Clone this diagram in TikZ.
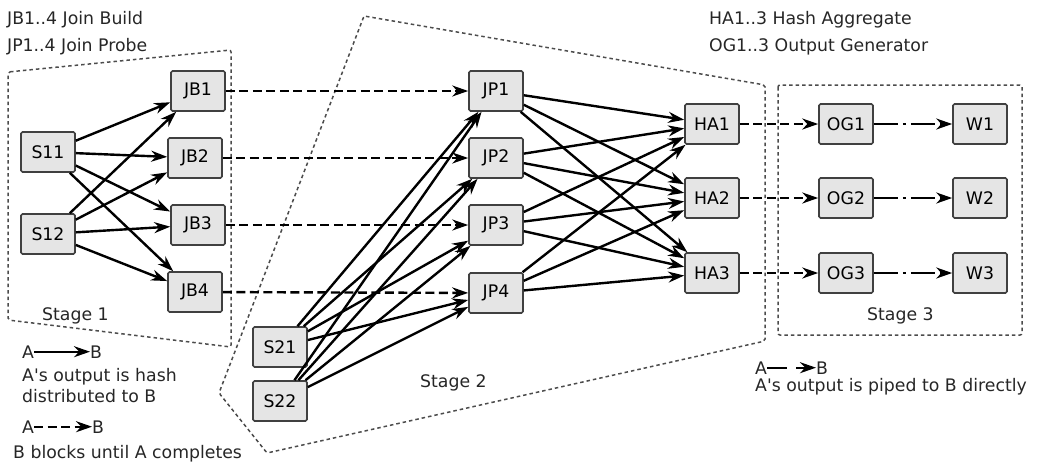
\documentclass[tikz,border=0pt]{standalone}
\usepackage{fontspec}
\setmainfont{DejaVu Sans}
\usetikzlibrary{arrows.meta,positioning}

\tikzset{
  op/.style={draw=black!75, fill=black!10, line width=1.6pt, rounded corners=1.5pt,
    minimum width=54pt, minimum height=40pt, inner sep=0pt},
  hash/.style={line width=2.4pt, -{Stealth[length=16pt,width=11pt]}},
  block/.style={hash, dash pattern=on 9pt off 4.5pt},
  pipe/.style={hash, dash pattern=on 24pt off 5pt on 3pt off 5pt},
  stageline/.style={draw=black!70, line width=1.5pt, dash pattern=on 3.5pt off 3pt, rounded corners=2pt},
  txt/.style={anchor=base west, inner sep=0pt, text=black!85},
}

\begin{document}
\begin{tikzpicture}[x=1pt, y=-1pt, every node/.style={font=\fontsize{17.3}{20}\selectfont}]
  \useasboundingbox (0,0) rectangle (1037,464);

  % stage outlines
  \draw[stageline] (8,72) -- (231,50) -- (231,347) -- (8,320) -- cycle;
  \draw[stageline] (364,16) -- (765,85) -- (765,341) -- (267,453) -- (219,393) -- cycle;
  \draw[stageline] (778,85) rectangle (1022,335);

  % stage 1
  \node[op] (S11) at (48,152) {S11};
  \node[op] (S12) at (48,234) {S12};
  \node[op] (JB1) at (198,91) {JB1};
  \node[op] (JB2) at (195,158) {JB2};
  \node[op] (JB3) at (198,225) {JB3};
  \node[op] (JB4) at (195,292) {JB4};

  % stage 2
  \node[op] (S21) at (280,347) {S21};
  \node[op] (S22) at (280,401) {S22};
  \node[op] (JP1) at (496,91) {JP1};
  \node[op] (JP2) at (496,158) {JP2};
  \node[op] (JP3) at (496,225) {JP3};
  \node[op] (JP4) at (496,293) {JP4};
  \node[op] (HA1) at (712,124) {HA1};
  \node[op] (HA2) at (712,198) {HA2};
  \node[op] (HA3) at (712,273) {HA3};

  % stage 3
  \node[op] (OG1) at (846,124) {OG1};
  \node[op] (OG2) at (846,198) {OG2};
  \node[op] (OG3) at (846,273) {OG3};
  \node[op] (W1) at (980,124) {W1};
  \node[op] (W2) at (980,198) {W2};
  \node[op] (W3) at (980,273) {W3};

  % connections
  \foreach \s in {S11,S12}
    \foreach \j in {1,...,4}
      \draw[hash] (\s) -- (JB\j);
  \foreach \s in {S21,S22}
    \foreach \j in {1,...,4}
      \draw[hash] (\s) -- (JP\j);
  \foreach \j in {1,...,4}
    \foreach \h in {1,2,3}
      \draw[hash] (JP\j) -- (HA\h);
  \foreach \j in {1,...,4}
    \draw[block] (JB\j) -- (JP\j);
  \foreach \h in {1,2,3} {
    \draw[block] (HA\h) -- (OG\h);
    \draw[pipe] (OG\h) -- (W\h);
  }

  % stage names
  \node[txt] at (42,320) {Stage 1};
  \node[txt] at (420,387) {Stage 2};
  \node[txt] at (867,320) {Stage 3};

  % abbreviations
  \node[txt] at (7,24) {JB1..4 Join Build};
  \node[txt] at (7,51) {JP1..4 Join Probe};
  \node[txt] at (709,24) {HA1..3 Hash Aggregate};
  \node[txt] at (709,51) {OG1..3 Output Generator};

  % legend
  \node[txt] (legA1) at (22,358) {A};
  \node[txt] (legB1) at (90,358) {B};
  \draw[hash] (legA1) -- (legB1);
  \node[txt] at (22,381) {A\textquotesingle s output is hash};
  \node[txt] at (22,402) {distributed to B};

  \node[txt] (legA2) at (22,433) {A};
  \node[txt] (legB2) at (92,433) {B};
  \draw[block] (legA2) -- (legB2);
  \node[txt] at (13,458) {B blocks until A completes};

  \node[txt] (legA3) at (755,374) {A};
  \node[txt] (legB3) at (816,374) {B};
  \draw[hash, dash pattern=on 20pt off 9pt] (legA3) -- (legB3);
  \node[txt] at (755,391) {A\textquotesingle s output is piped to B directly};
\end{tikzpicture}
\end{document}
